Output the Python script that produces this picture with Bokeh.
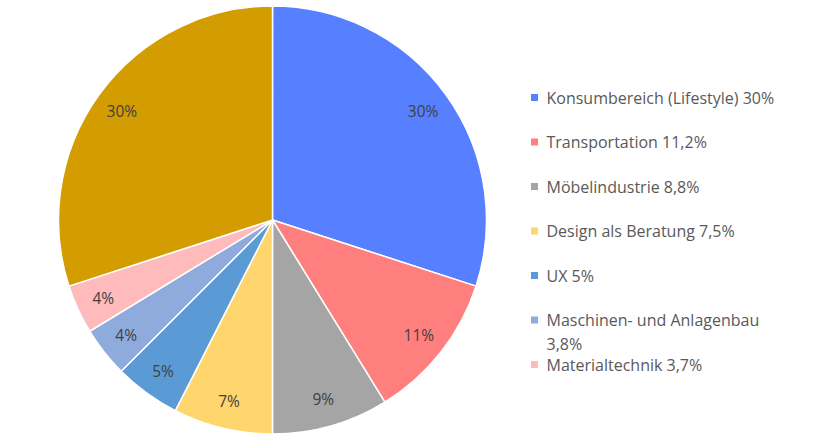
import math
from bokeh.plotting import figure
from bokeh.models import Range1d, ColumnDataSource
from bokeh.embed import file_html
from bokeh.resources import INLINE
from bokeh.core.properties import value

# ---- data ----
categories = ["Konsumbereich (Lifestyle)", "Transportation", "Möbelindustrie",
              "Design als Beratung", "UX", "Maschinen- und Anlagenbau",
              "Materialtechnik", ""]
shares = [30, 11.2, 8.8, 7.5, 5, 3.8, 3.7, 30]
pct_labels = ["30%", "11%", "9%", "7%", "5%", "4%", "4%", "30%"]
colors = ["#5680FF", "#FF7F7F", "#A5A5A5", "#FFD66E", "#5B9BD5", "#8FAADC",
          "#FFBBBB", "#D39C00"]

W, H = 805, 434
SCREEN_H = 442

def sy(y):  # picture y -> data y
    return SCREEN_H - y

p = figure(width=W, height=H, output_backend="svg", toolbar_location=None,
           x_range=Range1d(0, W), y_range=Range1d(SCREEN_H - H, SCREEN_H),
           min_border=0)
p.axis.visible = False
p.grid.visible = False
p.outline_line_color = None
p.background_fill_color = "white"

cx, cy, R = 272, sy(219.5), 214
total = sum(shares)
starts, ends, lx, ly = [], [], [], []
c = 0.0
for v in shares:
    a0 = math.pi / 2 - 2 * math.pi * c / total
    a1 = math.pi / 2 - 2 * math.pi * (c + v) / total
    starts.append(a0)
    ends.append(a1)
    am = (a0 + a1) / 2
    lx.append(cx + 0.87 * R * math.cos(am))
    ly.append(cy + 0.87 * R * math.sin(am))
    c += v

src = ColumnDataSource(dict(start=starts, end=ends, color=colors,
                            lx=lx, ly=ly, lab=pct_labels))
p.wedge(x=cx, y=cy, radius=R, start_angle="start", end_angle="end",
        direction="clock", fill_color="color", line_color="white",
        line_width=1.5, source=src)
p.text(x="lx", y="ly", text="lab", source=src, text_align="center",
       text_baseline="middle", text_font=value("Open Sans"),
       text_font_size="15.5px", text_color="#404040")

# ---- legend ----
leg_x_sq, leg_x_txt = 534, 546
row0, pitch = 97, 44.5
sq_x, sq_y, sq_c = [], [], []
t_x, t_y, t_s = [], [], []
for i, (name, v, col) in enumerate(zip(categories, shares, colors)):
    if not name:
        continue
    y = row0 + pitch * i
    sq_x.append(leg_x_sq)
    sq_y.append(sy(y))
    sq_c.append(col)
    pct = f"{v:g}".replace(".", ",") + "%"
    if "Anlagen" in name:
        lines = [name, pct]
    else:
        lines = [name + " " + pct]
    for k, ln in enumerate(lines):
        t_x.append(leg_x_txt)
        t_y.append(sy(y + 23.5 * k))
        t_s.append(ln)

p.scatter(x=sq_x, y=sq_y, marker="square", size=7, fill_color=sq_c,
          line_color=None)
p.text(x=t_x, y=t_y, text=t_s, text_align="left", text_baseline="middle",
       text_font=value("Open Sans"), text_font_size="16px",
       text_color="#595959")

open("out.html", "w").write(file_html(p, INLINE))
